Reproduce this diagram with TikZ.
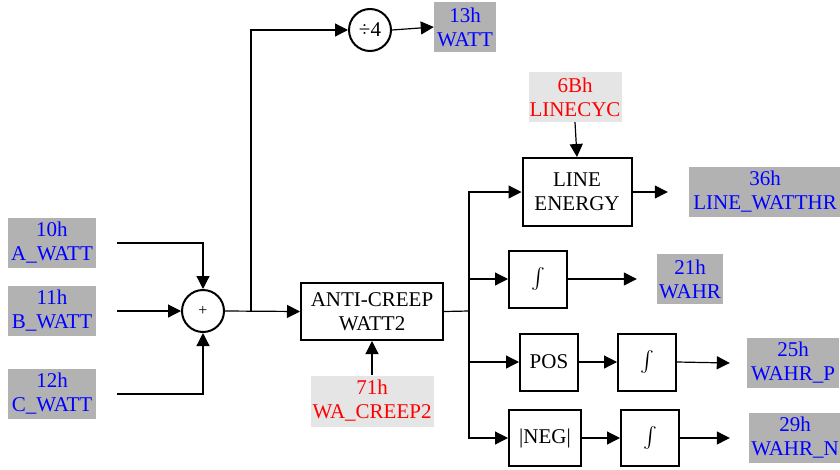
\documentclass[tikz,border=0pt]{standalone}
\usepackage{amsmath}
\usepackage{fontspec}
\setmainfont{Liberation Serif}
\usepackage{xcolor}
\usepackage{tikz}
\usetikzlibrary{arrows.meta,positioning}

\begin{document}
\begin{tikzpicture}[
    x=1pt, y=-1pt,
    >={Triangle[length=13pt,width=13pt]},
    txt/.style={font=\fontsize{21}{24}\selectfont, align=center, inner sep=0pt},
    reg/.style={txt, fill=gray!60, text=blue, minimum height=50pt},
    cfg/.style={txt, fill=gray!20, text=red, minimum height=50pt},
    blk/.style={txt, draw=black, line width=2pt, minimum width=58pt, minimum height=57pt},
    op/.style={txt, circle, draw=black, line width=2pt, minimum size=42pt},
    wire/.style={->, line width=1.2pt, black}
  ]
  \clip (0,0) rectangle (840,469);
  % phase inputs and summing
  \node[reg, minimum width=88pt] (aw) at (52,243) {10h\\A\_WATT};
  \node[reg, minimum width=88pt] (bw) at (52,311) {11h\\B\_WATT};
  \node[reg, minimum width=88pt] (cw) at (52,394) {12h\\C\_WATT};
  \node[op, font=\fontsize{16}{18}\selectfont] (sum) at (203,311) {+};
  \node[op] (div) at (370,30) {÷4};
  \node[reg, minimum width=62pt] (watt) at (465,27) {13h\\WATT};
  \node[blk, minimum width=142pt] (creep) at (372,311.5) {ANTI-CREEP\\WATT2};
  \node[cfg, minimum width=123pt, minimum height=51pt] (wacreep) at (372,401) {71h\\WA\_CREEP2};
  % energy accumulation
  \node[blk, minimum width=109pt, minimum height=68pt] (lineE) at (577,192) {LINE\\ENERGY};
  \node[cfg, minimum width=93pt] (linecyc) at (575,97) {6Bh\\LINECYC};
  \node[reg, minimum width=152pt] (lwh) at (765,192) {36h\\LINE\_WATTHR};
  \node[blk] (int1) at (538,279) {$\int$};
  \node[reg, minimum width=66pt] (wahr) at (690,279) {21h\\WAHR};
  \node[blk] (pos) at (549,362) {POS};
  \node[blk] (int2) at (647,362) {$\int$};
  \node[reg, minimum width=92pt] (wahrp) at (793,363) {25h\\WAHR\_P};
  \node[blk, minimum width=72pt, minimum height=56pt] (neg) at (545,438) {|NEG|};
  \node[blk, minimum height=56pt] (int3) at (650,438) {$\int$};
  \node[reg, minimum width=92pt] (wahrn) at (795,438) {29h\\WAHR\_N};
  \coordinate (tap) at (251,311);
  \coordinate (split) at (469,311);

  \draw[wire] ([xshift=21pt]aw.east) -| (sum.north);
  \draw[wire] ([xshift=21pt]bw.east) -- (sum.west);
  \draw[wire] ([xshift=21pt]cw.east) -| (sum.south);
  \draw[wire] (sum.east) -- (creep.west);
  \draw[wire] (tap) |- (div.west);
  \draw[wire] (div.east) -- (watt.west);
  \draw[wire] (wacreep.north) -- (creep.south);
  \draw[line width=1.2pt] (creep.east) -- (split);
  \draw[wire] (split) |- (lineE.west);
  \draw[wire] (split) |- (int1.west);
  \draw[wire] (split) |- (pos.west);
  \draw[wire] (split) |- (neg.west);
  \draw[wire] (linecyc.south) -- (lineE.north);
  \draw[wire] (lineE.east) -- ([xshift=-21pt]lwh.west);
  \draw[wire] (int1.east) -- ([xshift=-20pt]wahr.west);
  \draw[wire] (pos.east) -- (int2.west);
  \draw[wire] (int2.east) -- ([xshift=-17pt]wahrp.west);
  \draw[wire] (neg.east) -- (int3.west);
  \draw[wire] (int3.east) -- ([xshift=-19pt]wahrn.west);
\end{tikzpicture}
\end{document}
